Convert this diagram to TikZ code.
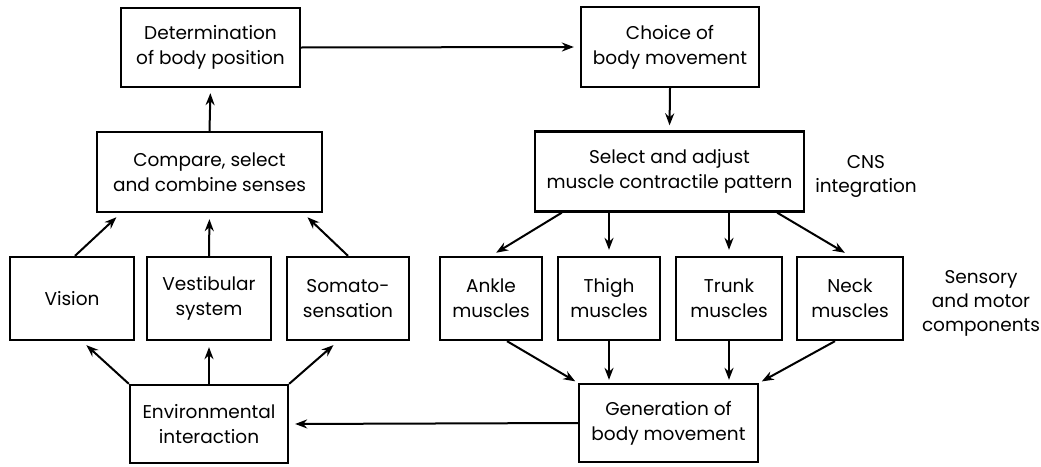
\documentclass[tikz,border=0pt]{standalone}
\usepackage{fontspec}
\setmainfont{Poppins}
\usetikzlibrary{arrows.meta,calc}
\begin{document}
\begin{tikzpicture}[x=1pt,y=-1pt,
  box/.style={draw,line width=2.3pt,align=center,inner sep=0pt,font=\fontsize{18.5}{25}\selectfont},
  arr/.style={line width=2pt,-{Stealth[length=12pt,width=9pt]},shorten >=6pt},
  lbl/.style={align=center,inner sep=0pt,font=\fontsize{18.5}{24}\selectfont}]
\useasboundingbox[fill=white] (0,0) rectangle (1041,466);
% top row
\node[box,minimum width=179pt,minimum height=79pt] (det) at (210.5,47.5) {Determination\\of body position};
\node[box,minimum width=178pt,minimum height=80pt] (choice) at (670,47) {Choice of\\body movement};
% second row
\node[box,minimum width=225pt,minimum height=80pt] (compare) at (209.5,172) {Compare, select\\and combine senses};
\node[box,minimum width=269pt,minimum height=80pt] (select) at (669.5,171.5) {Select and adjust\\muscle contractile pattern};
\node[lbl] (cns) at (866,176) {CNS\\integration};
% third row
\node[box,minimum width=124pt,minimum height=83pt] (vision) at (72,298.5) {Vision};
\node[box,minimum width=124pt,minimum height=83pt] (vest) at (209,298.5) {Vestibular\\system};
\node[box,minimum width=122pt,minimum height=83pt] (somato) at (348,298.5) {Somato-\\sensation};
\node[box,minimum width=102pt,minimum height=83pt] (ankle) at (491,298.5) {Ankle\\muscles};
\node[box,minimum width=102pt,minimum height=83pt] (thigh) at (609,298.5) {Thigh\\muscles};
\node[box,minimum width=106pt,minimum height=83pt] (trunk) at (729,298.5) {Trunk\\muscles};
\node[box,minimum width=106pt,minimum height=83pt] (neck) at (850,298.5) {Neck\\muscles};
\node[lbl] (smc) at (981,303) {Sensory\\and motor\\components};
% bottom row
\node[box,minimum width=158pt,minimum height=78pt] (env) at (209,424) {Environmental\\interaction};
\node[box,minimum width=179pt,minimum height=78pt] (gen) at (668.5,423) {Generation of\\body movement};
% connectors
\draw[arr] (det.east) -- (choice.west);
\draw[arr,shorten >=5pt] (choice.south) -- (select.north);
\draw[arr,shorten >=5pt] (compare.north) -- (det.south);
\draw[arr] ([xshift=3pt]vision.north) -- ([xshift=25pt]compare.south west);
\draw[arr] (vest.north) -- (compare.south);
\draw[arr] (somato.north) -- ([xshift=-20pt]compare.south east);
\draw[arr] (env.north west) -- ([xshift=10pt]vision.south);
\draw[arr] (env.north) -- (vest.south);
\draw[arr] (env.north east) -- ([xshift=-10pt]somato.south);
\draw[arr] ([xshift=28pt]select.south west) -- (ankle.north);
\draw[arr] (select.south -| thigh.north) -- (thigh.north);
\draw[arr] (select.south -| trunk.north) -- (trunk.north);
\draw[arr] ([xshift=-28pt]select.south east) -- (neck.north);
\draw[arr,shorten >=3pt] ([xshift=16pt]ankle.south) -- (gen.north west);
\draw[arr,shorten >=3pt] (thigh.south) -- (thigh.south |- gen.north);
\draw[arr,shorten >=3pt] (trunk.south) -- (trunk.south |- gen.north);
\draw[arr,shorten >=3pt] ([xshift=-15pt]neck.south) -- (gen.north east);
\draw[arr] (gen.west) -- (env.east);
\end{tikzpicture}
\end{document}
